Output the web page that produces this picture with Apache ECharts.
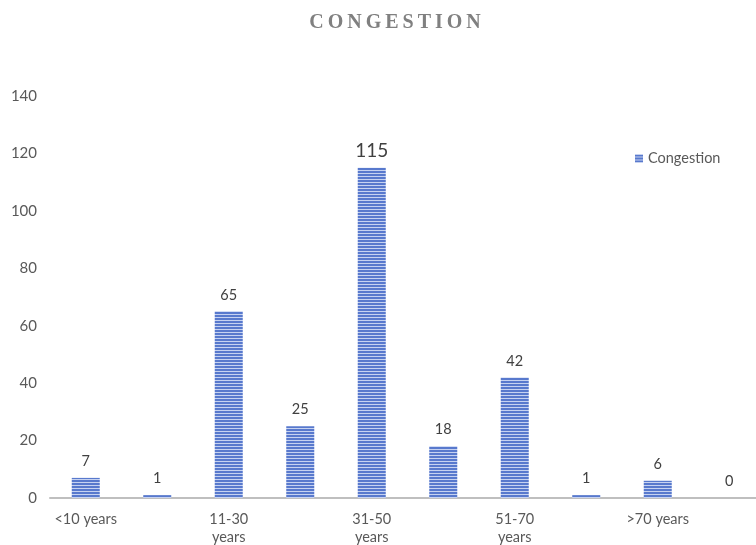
<!DOCTYPE html>
<html>
<head>
<meta charset="utf-8">
<script src="https://cdn.jsdelivr.net/npm/echarts@6/dist/echarts.min.js"></script>
<style>
  html, body { margin: 0; padding: 0; background: #fff; }
  #chart { width: 756px; height: 545px; }
</style>
</head>
<body>
<div id="chart"></div>
<script>
// Age groups (labels shown on every other bar)
const categories = ['<10 years', '', '11-30\nyears', '', '31-50\nyears', '', '51-70\nyears', '', '>70 years', ''];
const congestion = [7, 1, 65, 25, 115, 18, 42, 1, 6, 0];
const yTicks = { min: 0, max: 140, interval: 20 };

// Horizontal striped fill for the bars
function stripePattern() {
  const c = document.createElement('canvas');
  c.width = 4; c.height = 3;
  const ctx = c.getContext('2d');
  ctx.fillStyle = '#5879cd';
  ctx.fillRect(0, 0, 4, 2);
  ctx.fillStyle = '#c6d2f1';
  ctx.fillRect(0, 2, 4, 1);
  return c;
}
const fill = { image: stripePattern(), repeat: 'repeat' };

// Spaced-out capitals for the heading
const titleText = 'CONGESTION'.split('').join('\u2009');

const chart = echarts.init(document.getElementById('chart'), null, { renderer: 'canvas' });
chart.setOption({
  animation: false,
  backgroundColor: '#fff',
  title: {
    text: titleText,
    left: 390,
    textAlign: 'center',
    top: 8,
    textStyle: {
      fontFamily: 'Liberation Serif, serif',
      fontWeight: 'bold',
      fontSize: 20,
      color: '#808080'
    }
  },
  legend: {
    data: ['Congestion'],
    left: 630,
    top: 146,
    itemWidth: 8,
    itemHeight: 8,
    itemGap: 4,
    textStyle: { fontFamily: 'Lato, sans-serif', fontSize: 14.5, color: '#595959' },
    icon: 'rect'
  },
  grid: { left: 50, right: -9, top: 96, bottom: 47, containLabel: false, outerBoundsMode: 'none' },
  xAxis: {
    type: 'category',
    data: categories,
    axisLine: { show: true, lineStyle: { color: '#bfbfbf', width: 2 } },
    axisTick: { show: false },
    axisLabel: {
      interval: 0,
      margin: 12,
      lineHeight: 18,
      fontFamily: 'Lato, sans-serif',
      fontSize: 14.5,
      color: '#595959'
    }
  },
  yAxis: {
    type: 'value',
    min: yTicks.min,
    max: yTicks.max,
    interval: yTicks.interval,
    axisLine: { show: false },
    axisTick: { show: false },
    splitLine: { show: false },
    axisLabel: {
      margin: 13,
      fontFamily: 'Lato, sans-serif',
      fontSize: 15,
      color: '#595959'
    }
  },
  series: [{
    name: 'Congestion',
    type: 'bar',
    data: congestion.map(function (v) {
      const big = v === Math.max.apply(null, congestion);
      return {
        value: v,
        label: big ? { fontSize: 19, distance: 7 } : undefined
      };
    }),
    barWidth: 28,
    itemStyle: { color: fill },
    label: {
      show: true,
      position: 'top',
      distance: 9,
      fontFamily: 'Lato, sans-serif',
      fontSize: 14.5,
      color: '#404040'
    }
  }]
});
</script>
</body>
</html>
